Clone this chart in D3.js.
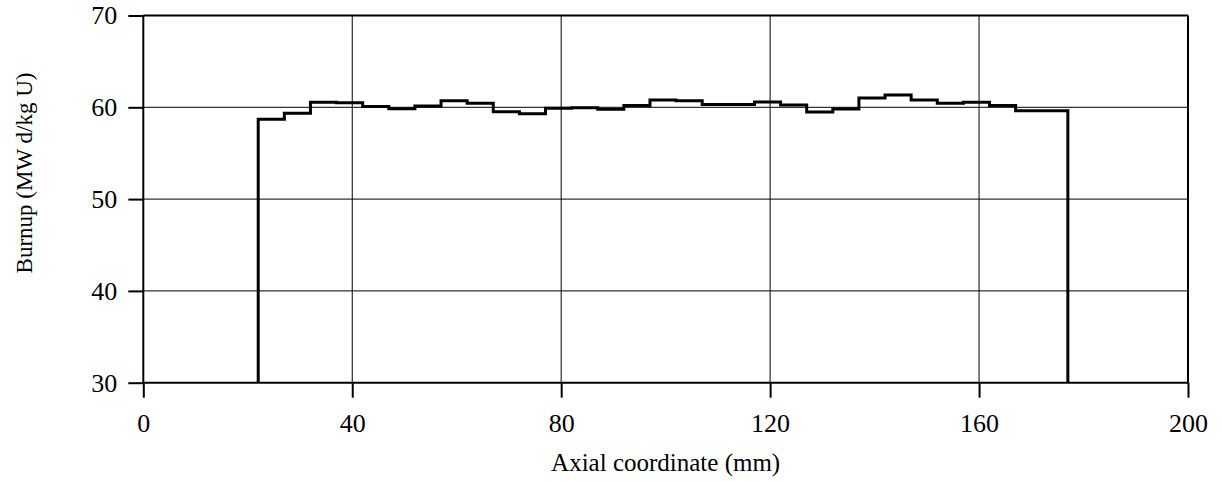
<!DOCTYPE html>
<html>
<head>
<meta charset="utf-8">
<script src="https://cdn.jsdelivr.net/npm/d3@7"></script>
<style>
  html, body { margin: 0; padding: 0; background: #fff; }
  svg { display: block; }
  text { font-family: "Liberation Serif", "Times New Roman", serif; fill: #000; }
</style>
</head>
<body>
<svg id="chart" width="1222" height="481"></svg>
<script>
// Axial segment boundaries (mm) and the burnup of each segment (MW d/kg U)
const segmentEdges = [22, 27, 32, 37, 42, 47, 52, 57, 62, 67, 72, 77, 82, 87, 92, 97,
                      102, 107, 112, 117, 122, 127, 132, 137, 142, 147, 152, 157, 162, 167, 172, 177];
const burnup = [58.7, 59.35, 60.55, 60.5, 60.1, 59.85, 60.14, 60.72, 60.43, 59.52, 59.3,
                59.9, 59.95, 59.78, 60.2, 60.8, 60.72, 60.3, 60.3, 60.57, 60.25, 59.5,
                59.82, 61.0, 61.34, 60.8, 60.43, 60.54, 60.2, 59.63, 59.63];
const xTicks = [0, 40, 80, 120, 160, 200];
const yTicks = [30, 40, 50, 60, 70];
const baseBurnup = 30;

const svg = d3.select("#chart");
const margin = { left: 143.3, right: 1222 - 1188, top: 15.5, bottom: 481 - 382.7 };
const W = 1222, H = 481;

const x = d3.scaleLinear().domain([0, 200]).range([margin.left, W - margin.right]);
const y = d3.scaleLinear().domain([30, 70]).range([H - margin.bottom, margin.top]);

// gridlines
const grid = svg.append("g").attr("class", "grid");
grid.selectAll("line.gx").data(xTicks.slice(1, -1)).join("line")
  .attr("x1", d => x(d)).attr("x2", d => x(d))
  .attr("y1", y(30)).attr("y2", y(70))
  .attr("stroke", "#000").attr("stroke-width", 1);
grid.selectAll("line.gy").data(yTicks.slice(1, -1)).join("line")
  .attr("x1", x(0)).attr("x2", x(200))
  .attr("y1", d => y(d)).attr("y2", d => y(d))
  .attr("stroke", "#000").attr("stroke-width", 1);

// axes
const xAxis = d3.axisBottom(x).tickValues(xTicks).tickSize(15).tickPadding(16);
const yAxis = d3.axisLeft(y).tickValues(yTicks).tickSize(15).tickPadding(11);

const gx = svg.append("g").attr("transform", `translate(0,${y(30)})`).call(xAxis);
const gy = svg.append("g").attr("transform", `translate(${x(0)},0)`).call(yAxis);
[gx, gy].forEach(g => {
  g.select(".domain").attr("stroke", "#000").attr("stroke-width", 2);
  g.selectAll(".tick line").attr("stroke", "#000").attr("stroke-width", 2);
  g.selectAll(".tick text").attr("font-family", "Liberation Serif, serif")
    .attr("font-size", 26).attr("fill", "#000");
});
gx.select(".domain").attr("d", `M${x(0)},0H${x(200)}`);
gy.select(".domain").attr("d", `M0,${y(30)}V${y(70)}`);

// top and right frame
svg.append("line").attr("x1", x(0)).attr("x2", x(200)).attr("y1", y(70)).attr("y2", y(70))
  .attr("stroke", "#000").attr("stroke-width", 2);
svg.append("line").attr("x1", x(200)).attr("x2", x(200)).attr("y1", y(70)).attr("y2", y(30))
  .attr("stroke", "#000").attr("stroke-width", 2);

// burnup step profile
const pts = [[segmentEdges[0], baseBurnup]];
burnup.forEach((v, i) => {
  pts.push([segmentEdges[i], v]);
  pts.push([segmentEdges[i + 1], v]);
});
pts.push([segmentEdges[segmentEdges.length - 1], baseBurnup]);

const line = d3.line().x(d => x(d[0])).y(d => y(d[1]));
svg.append("path").datum(pts)
  .attr("d", line)
  .attr("fill", "none")
  .attr("stroke", "#000")
  .attr("stroke-width", 3)
  .attr("stroke-linejoin", "miter");

// axis titles
svg.append("text")
  .attr("x", (x(0) + x(200)) / 2).attr("y", 471)
  .attr("text-anchor", "middle").attr("font-size", 25)
  .text("Axial coordinate (mm)");
svg.append("text")
  .attr("transform", `translate(32,173) rotate(-90)`)
  .attr("text-anchor", "middle").attr("font-size", 23)
  .text("Burnup (MW d/kg U)");
</script>
</body>
</html>
